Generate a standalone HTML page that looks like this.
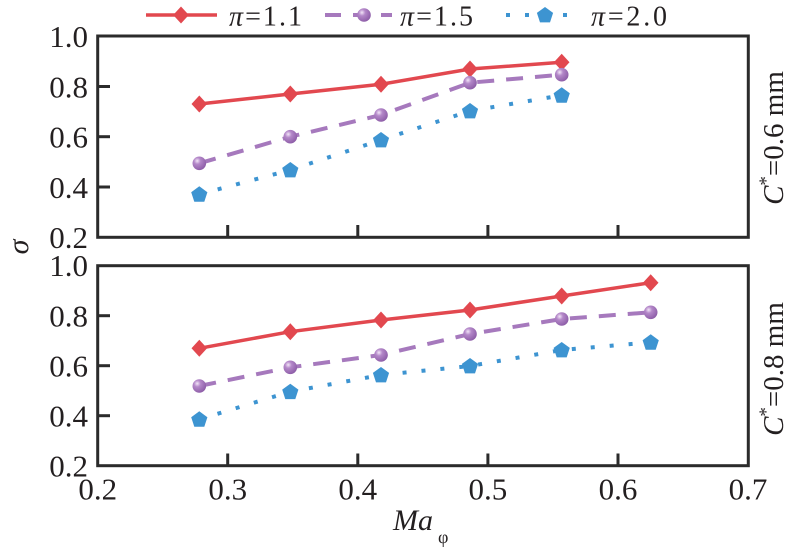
<!DOCTYPE html>
<html><head><meta charset="utf-8"><style>
html,body{margin:0;padding:0;background:#fff;}
svg{display:block;font-family:"Liberation Serif","Times New Roman",serif;}
svg text{font-family:"Liberation Serif","Times New Roman",serif;fill:#231f20;}
</style></head><body>
<svg width="794" height="551" viewBox="0 0 794 551" xmlns="http://www.w3.org/2000/svg" font-family="Liberation Serif, serif">
<defs>
<radialGradient id="sph" cx="0.35" cy="0.32" r="0.7">
<stop offset="0" stop-color="#f3e6f8"/>
<stop offset="0.35" stop-color="#b488c9"/>
<stop offset="1" stop-color="#8e5ea8"/>
</radialGradient>
</defs>

<!-- Legend -->
<line x1="146" y1="15" x2="217" y2="15" stroke="#e2484f" stroke-width="3.5"/>
<polygon points="181,6.5 188.8,15 181,23.5 173.2,15" fill="#e2484f"/>
<text x="229" y="25.5" font-size="28" textLength="73" lengthAdjust="spacing" font-family="Liberation Serif, serif"><tspan font-style="italic">π</tspan>=1.1</text>
<line x1="325" y1="15" x2="392" y2="15" stroke="#a679bd" stroke-width="4" stroke-dasharray="16 12"/>
<circle cx="364" cy="15" r="6.8" fill="url(#sph)"/>
<text x="400" y="25.5" font-size="28" textLength="73" lengthAdjust="spacing" font-family="Liberation Serif, serif"><tspan font-style="italic">π</tspan>=1.5</text>
<line x1="506" y1="15" x2="580" y2="15" stroke="#3d94d1" stroke-width="4" stroke-dasharray="4 15"/>
<polygon points="545,7 553.1,12.9 550,22.4 540,22.4 536.9,12.9" fill="#3d94d1"/>
<text x="591" y="25.5" font-size="28" textLength="76" lengthAdjust="spacing" font-family="Liberation Serif, serif"><tspan font-style="italic">π</tspan>=2.0</text>

<!-- Top panel frame -->
<rect x="97.7" y="36" width="650.6" height="201.3" fill="none" stroke="#2b2b2b" stroke-width="3"/>
<g stroke="#2b2b2b" stroke-width="3">
<line x1="227.7" y1="237" x2="227.7" y2="225"/>
<line x1="357.8" y1="237" x2="357.8" y2="225"/>
<line x1="487.9" y1="237" x2="487.9" y2="225"/>
<line x1="618" y1="237" x2="618" y2="225"/>
<line x1="98" y1="86.5" x2="110" y2="86.5"/>
<line x1="98" y1="136.7" x2="110" y2="136.7"/>
<line x1="98" y1="187" x2="110" y2="187"/>
</g>
<g font-size="31" text-anchor="end" font-family="Liberation Serif, serif">
<text x="88" y="47">1.0</text>
<text x="88" y="97.5">0.8</text>
<text x="88" y="147.7">0.6</text>
<text x="88" y="198">0.4</text>
<text x="88" y="248">0.2</text>
</g>

<!-- Top series -->
<polyline points="199.3,104 290.3,94 381,84.3 470,69 561.7,62.3" fill="none" stroke="#e2484f" stroke-width="3.5"/>
<polyline points="199.3,163.3 290.3,136.7 381,115 470,82.7 561.7,74.7" fill="none" stroke="#a679bd" stroke-width="4" stroke-dasharray="17 12"/>
<polyline points="199.3,194.3 290.3,170 381,140 470,111 561.7,95.3" fill="none" stroke="#3d94d1" stroke-width="4" stroke-dasharray="4 15"/>
<g fill="#e2484f">
<polygon points="199.3,95.5 207.1,104 199.3,112.5 191.5,104"/>
<polygon points="290.3,85.5 298.1,94 290.3,102.5 282.5,94"/>
<polygon points="381,75.8 388.8,84.3 381,92.8 373.2,84.3"/>
<polygon points="470,60.5 477.8,69 470,77.5 462.2,69"/>
<polygon points="561.7,53.8 569.5,62.3 561.7,70.8 553.9,62.3"/>
</g>
<g fill="url(#sph)">
<circle cx="199.3" cy="163.3" r="6.8"/>
<circle cx="290.3" cy="136.7" r="6.8"/>
<circle cx="381" cy="115" r="6.8"/>
<circle cx="470" cy="82.7" r="6.8"/>
<circle cx="561.7" cy="74.7" r="6.8"/>
</g>
<g fill="#3d94d1">
<polygon points="199.3,186.3 207.4,192.2 204.3,201.7 194.3,201.7 191.2,192.2"/>
<polygon points="290.3,162 298.4,167.9 295.3,177.4 285.3,177.4 282.2,167.9"/>
<polygon points="381,132 389.1,137.9 386,147.4 376,147.4 372.9,137.9"/>
<polygon points="470,103 478.1,108.9 475,118.4 465,118.4 461.9,108.9"/>
<polygon points="561.7,87.3 569.8,93.2 566.7,102.7 556.7,102.7 553.6,93.2"/>
</g>

<!-- Bottom panel frame -->
<rect x="97.7" y="265.7" width="650.6" height="200" fill="none" stroke="#2b2b2b" stroke-width="3"/>
<g stroke="#2b2b2b" stroke-width="3">
<line x1="227.7" y1="465.5" x2="227.7" y2="453.5"/>
<line x1="357.8" y1="465.5" x2="357.8" y2="453.5"/>
<line x1="487.9" y1="465.5" x2="487.9" y2="453.5"/>
<line x1="618" y1="465.5" x2="618" y2="453.5"/>
<line x1="98" y1="315.7" x2="110" y2="315.7"/>
<line x1="98" y1="365.7" x2="110" y2="365.7"/>
<line x1="98" y1="415.7" x2="110" y2="415.7"/>
</g>
<g font-size="31" text-anchor="end" font-family="Liberation Serif, serif">
<text x="88" y="276">1.0</text>
<text x="88" y="326.5">0.8</text>
<text x="88" y="376.5">0.6</text>
<text x="88" y="426.5">0.4</text>
<text x="88" y="476.5">0.2</text>
</g>
<g font-size="31" text-anchor="middle" font-family="Liberation Serif, serif">
<text x="97.7" y="499.5">0.2</text>
<text x="227.7" y="499.5">0.3</text>
<text x="357.8" y="499.5">0.4</text>
<text x="487.9" y="499.5">0.5</text>
<text x="618" y="499.5">0.6</text>
<text x="748" y="499.5">0.7</text>
</g>

<!-- Bottom series -->
<polyline points="199.3,348.3 290.3,331.7 381,320 470,310 561.7,296 650.7,282.7" fill="none" stroke="#e2484f" stroke-width="3.5"/>
<polyline points="199.3,386 290.3,367.3 381,355 470,334 561.7,319 650.7,312.3" fill="none" stroke="#a679bd" stroke-width="4" stroke-dasharray="17 12"/>
<polyline points="199.3,419.3 290.3,391.7 381,375 470,366 561.7,350 650.7,342.3" fill="none" stroke="#3d94d1" stroke-width="4" stroke-dasharray="4 15"/>
<g fill="#e2484f">
<polygon points="199.3,339.8 207.1,348.3 199.3,356.8 191.5,348.3"/>
<polygon points="290.3,323.2 298.1,331.7 290.3,340.2 282.5,331.7"/>
<polygon points="381,311.5 388.8,320 381,328.5 373.2,320"/>
<polygon points="470,301.5 477.8,310 470,318.5 462.2,310"/>
<polygon points="561.7,287.5 569.5,296 561.7,304.5 553.9,296"/>
<polygon points="650.7,274.2 658.5,282.7 650.7,291.2 642.9,282.7"/>
</g>
<g fill="url(#sph)">
<circle cx="199.3" cy="386" r="6.8"/>
<circle cx="290.3" cy="367.3" r="6.8"/>
<circle cx="381" cy="355" r="6.8"/>
<circle cx="470" cy="334" r="6.8"/>
<circle cx="561.7" cy="319" r="6.8"/>
<circle cx="650.7" cy="312.3" r="6.8"/>
</g>
<g fill="#3d94d1">
<polygon points="199.3,411.3 207.4,417.2 204.3,426.7 194.3,426.7 191.2,417.2"/>
<polygon points="290.3,383.7 298.4,389.6 295.3,399.1 285.3,399.1 282.2,389.6"/>
<polygon points="381,367 389.1,372.9 386,382.4 376,382.4 372.9,372.9"/>
<polygon points="470,358 478.1,363.9 475,373.4 465,373.4 461.9,363.9"/>
<polygon points="561.7,342 569.8,347.9 566.7,357.4 556.7,357.4 553.6,347.9"/>
<polygon points="650.7,334.3 658.8,340.2 655.7,349.7 645.7,349.7 642.6,340.2"/>
</g>

<!-- Axis labels -->
<text x="393" y="530" font-size="30" font-style="italic" font-family="Liberation Serif, serif">Ma</text>
<text x="438" y="543" font-size="18" font-family="Liberation Serif, serif">φ</text>
<text transform="translate(28,247) rotate(-90)" font-size="30" font-style="italic" text-anchor="middle" font-family="Liberation Serif, serif">σ</text>
<text transform="translate(783,138) rotate(-90)" font-size="29" text-anchor="middle" font-family="Liberation Serif, serif"><tspan font-style="italic">C</tspan><tspan font-size="19" dy="-11">*</tspan><tspan dy="11">=0.6 mm</tspan></text>
<text transform="translate(783,369) rotate(-90)" font-size="29" text-anchor="middle" font-family="Liberation Serif, serif"><tspan font-style="italic">C</tspan><tspan font-size="19" dy="-11">*</tspan><tspan dy="11">=0.8 mm</tspan></text>
</svg>
</body></html>
